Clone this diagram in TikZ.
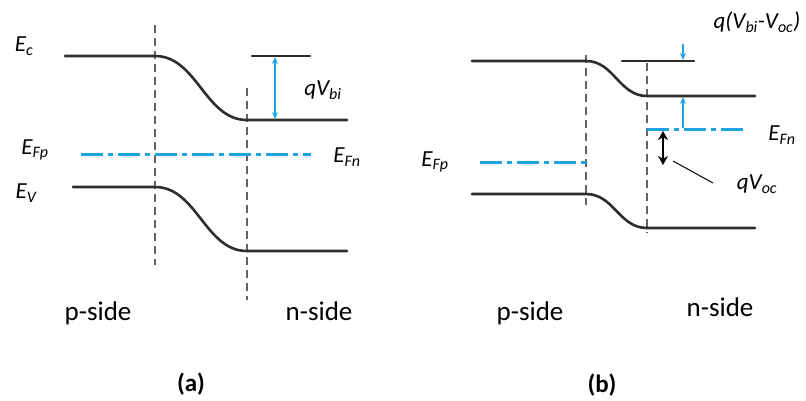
\documentclass[tikz,border=0pt]{standalone}
\usepackage{fontspec}
\setmainfont{Carlito}
\usetikzlibrary{arrows.meta}
\definecolor{bandblue}{RGB}{30,165,225}
\definecolor{banddark}{RGB}{45,45,45}
\definecolor{dashgray}{RGB}{100,100,100}
\tikzset{
  band/.style={draw=banddark, line width=2.6pt, line cap=round},
  junction/.style={draw=dashgray, line width=1.4pt, dash pattern=on 8pt off 5pt},
  fermi/.style={draw=bandblue, line width=3pt, dash pattern=on 22pt off 5pt on 5pt off 5pt},
  bluearrow/.style={draw=bandblue, line width=1.3pt},
  lbl/.style={font=\fontsize{23}{26}\selectfont\itshape, inner sep=0pt},
  side/.style={font=\fontsize{27}{30}\selectfont, inner sep=0pt},
  panelcap/.style={font=\fontsize{25}{28}\selectfont\bfseries, inner sep=0pt},
}
\newcommand\sbs[1]{\textsubscript{\fontsize{16}{18}\selectfont #1}}
\begin{document}
\begin{tikzpicture}[x=1pt,y=-1pt]
\useasboundingbox (0,0) rectangle (806,400);
% ---------- panel (a) ----------
\draw[junction] (155,25) -- (155,265);
\draw[junction] (247,88) -- (247,300);
\draw[band] (65,56) -- (155,56) .. controls (197,56) and (205,120) .. (247,120) -- (347,120);
\draw[band] (252,56) -- (310,56);
\draw[band] (73,187) -- (155,187) .. controls (197,187) and (205,251) .. (247,251) -- (347,251);
\draw[fermi] (81,154) -- (311,154);
\coordinate (aT) at (275,57);
\coordinate (aB) at (275,119);
\draw[bluearrow, {Stealth[length=7pt,width=6pt]}-{Stealth[length=7pt,width=6pt]}] (aT) -- (aB);
\node[lbl] (Ec) at (24,46) {E\sbs{c}};
\node[lbl] (Efp) at (35,150) {E\sbs{Fp}};
\node[lbl] (Efn) at (347,157) {E\sbs{Fn}};
\node[lbl] (Ev) at (26,193) {E\sbs{V}};
\node[lbl] (qvbi) at (323,90) {qV\sbs{bi}};
\node[side] (pa) at (98,313) {p-side};
\node[side] (na) at (319,311) {n-side};
\node[panelcap] (capa) at (191,384) {(a)};
% ---------- panel (b) ----------
\draw[junction] (586,55) -- (586,205);
\draw[junction] (647,63) -- (647,233);
\draw[band] (472,61) -- (586,61) .. controls (614,61) and (619,96) .. (647,96) -- (755,96);
\draw[band] (622,61) -- (694,61);
\draw[band] (472,194) -- (586,194) .. controls (614,194) and (619,228) .. (647,228) -- (755,228);
\draw[fermi] (647,129) -- (748,129);
\draw[fermi] (480,162) -- (586,162);
\coordinate (bT1) at (683,44);
\coordinate (bT2) at (683,60);
\coordinate (bB1) at (683,128);
\coordinate (bB2) at (683,97);
\draw[bluearrow, -{Stealth[length=7pt,width=6pt]}] (bT1) -- (bT2);
\draw[bluearrow, -{Stealth[length=7pt,width=6pt]}] (bB1) -- (bB2);
\coordinate (vT) at (663,131);
\coordinate (vB) at (663,165);
\draw[black, line width=1.6pt, {Stealth[length=9pt,width=10pt]}-{Stealth[length=9pt,width=10pt]}] (vT) -- (vB);
\node[lbl] (qvoc) at (757,184) {qV\sbs{oc}};
\coordinate (pS) at (673,161);
\coordinate (pE) at (713,183);
\draw[black, line width=1pt] (pS) -- (pE);
\node[lbl] (qdiff) at (757,22) {q(V\sbs{bi}-V\sbs{oc})};
\node[lbl] (Efn2) at (782,135) {E\sbs{Fn}};
\node[lbl] (Efp2) at (435,162) {E\sbs{Fp}};
\node[side] (pb) at (530,313) {p-side};
\node[side] (nb) at (720,307) {n-side};
\node[panelcap] (capb) at (602,385) {(b)};
\end{tikzpicture}
\end{document}
